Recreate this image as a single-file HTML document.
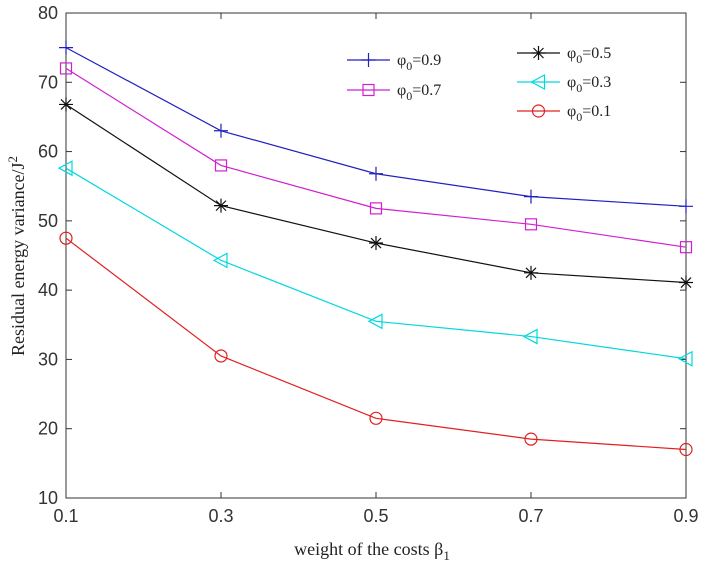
<!DOCTYPE html>
<html><head><meta charset="utf-8"><style>body{margin:0;background:#fff}svg{display:block}</style></head><body>
<svg id="c" width="704" height="571" xmlns="http://www.w3.org/2000/svg" font-family="Liberation Sans, sans-serif">
<g id="g"></g>
<text x="372" y="555" text-anchor="middle" font-size="18" font-family="Liberation Serif, serif" fill="#222">weight of the costs β<tspan dy="5" font-size="13">1</tspan></text>
<text transform="translate(24,256) rotate(-90)" text-anchor="middle" font-size="18" font-family="Liberation Serif, serif" fill="#222">Residual energy variance/J<tspan dy="-7" font-size="13">2</tspan></text>
</svg>
<script>
const categories=[0.1,0.3,0.5,0.7,0.9];
const yTicks=[10,20,30,40,50,60,70,80];
const s09=[75,63,56.8,53.5,52.1];
const s07=[72,58,51.8,49.5,46.2];
const s05=[66.8,52.2,46.8,42.5,41.1];
const s03=[57.6,44.3,35.5,33.3,30.1];
const s01=[47.5,30.5,21.5,18.5,17];
const L=66,R=686,T=13,B=498;
const x=v=>L+(v-0.1)/0.8*(R-L);
const y=v=>B-(v-10)/70*(B-T);
const ns="http://www.w3.org/2000/svg",g=document.getElementById('g');
function mk(t,a,p){const e=document.createElementNS(ns,t);for(const k in a)e.setAttribute(k,a[k]);(p||g).appendChild(e);return e;}
let e=mk('rect',{x:L,y:T,width:R-L,height:B-T,fill:'none',stroke:'#333','stroke-width':1});


categories.forEach(c=>{
 mk('line',{x1:x(c),x2:x(c),y1:B,y2:B-6,stroke:'#333'});mk('line',{x1:x(c),x2:x(c),y1:T,y2:T+6,stroke:'#333'});
 const t=mk('text',{x:x(c),y:B+24,'text-anchor':'middle','font-size':18,fill:'#333'});t.textContent=c.toFixed(1);
 
 
});
yTicks.forEach(v=>{
 mk('line',{x1:L,x2:L+6,y1:y(v),y2:y(v),stroke:'#333'});mk('line',{x1:R,x2:R-6,y1:y(v),y2:y(v),stroke:'#333'});
 const t=mk('text',{x:L-8,y:y(v)+6,'text-anchor':'end','font-size':18,fill:'#333'});t.textContent=v;
 
 
});
function marker(type,cx,cy,col,p){
 const a={fill:'none',stroke:col,'stroke-width':1.2};
 if(type==='plus'){mk('path',Object.assign({d:`M${cx-7},${cy}H${cx+7}M${cx},${cy-7}V${cy+7}`},a),p);}
 else if(type==='sq'){mk('rect',Object.assign({x:cx-5.5,y:cy-5.5,width:11,height:11},a),p);}
 else if(type==='star'){mk('path',Object.assign({d:`M${cx-7},${cy}H${cx+7}M${cx},${cy-7}V${cy+7}M${cx-5},${cy-5}L${cx+5},${cy+5}M${cx-5},${cy+5}L${cx+5},${cy-5}`},a),p);}
 else if(type==='tri'){mk('path',Object.assign({d:`M${cx-7},${cy}L${cx+6},${cy-7}L${cx+6},${cy+7}Z`},a),p);}
 else {mk('circle',Object.assign({cx:cx,cy:cy,r:6},a),p);}
}
const series=[[s09,'#2020c0','plus','0.9'],[s07,'#d020d0','sq','0.7'],[s05,'#111','star','0.5'],[s03,'#00d8e0','tri','0.3'],[s01,'#e02020','circ','0.1']];
series.forEach(([d,col,m,lab])=>{
 const sg=mk('g',{});
 
 
 mk('polyline',{points:d.map((v,i)=>x(categories[i])+','+y(v)).join(' '),fill:'none',stroke:col,'stroke-width':1.2},sg);
 d.forEach((v,i)=>marker(m,x(categories[i]),y(v),col,sg));
});
const leg=[[347,60,0],[347,90,1],[517,53,2],[517,82,3],[517,111,4]];
leg.forEach(([lx,ly,i])=>{
 const [d,col,m,lab]=series[i];
 const lg=mk('g',{});
 
 
 mk('line',{x1:lx,x2:lx+43,y1:ly,y2:ly,stroke:col,'stroke-width':1.2},lg);
 marker(m,lx+21.5,ly,col,lg);
 const t=mk('text',{x:lx+50,y:ly+5,'font-size':16,'font-family':'Liberation Serif, serif',fill:'#222'},lg);
 t.innerHTML='φ<tspan dy="5" font-size="12">0</tspan><tspan dy="-5">='+lab+'</tspan>';
});
</script>
</body></html>
